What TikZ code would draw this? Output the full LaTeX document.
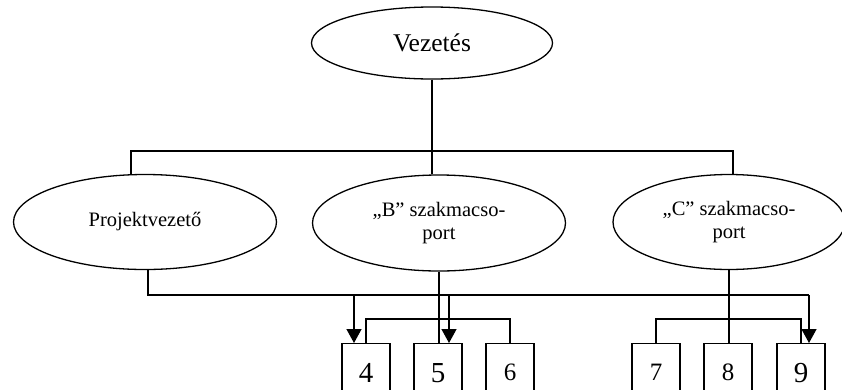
\documentclass[tikz,border=0pt]{standalone}
\usepackage{fontspec}
\setmainfont{Liberation Serif}
\usetikzlibrary{shapes.geometric,arrows.meta,calc}
\begin{document}
\begin{tikzpicture}[x=1pt, y=-1pt, line width=1.3pt,
  oval/.style={draw, ellipse, inner sep=0pt},
  unit/.style={draw, rectangle, minimum width=48pt, minimum height=58pt, inner sep=0pt, anchor=north},
  big/.style={font=\fontsize{29}{32}\selectfont},
  small/.style={font=\fontsize{25}{28}\selectfont},
  label/.style={font=\fontsize{20.5}{23}\selectfont},
  link/.style={-{Triangle[width=15pt,length=14pt]}}]
\useasboundingbox (0,0) rectangle (842,389);
\clip (0,0) rectangle (842,389);

% management level
\node[oval, minimum width=241pt, minimum height=72pt, font=\fontsize{25.5}{28}\selectfont] (vez) at (432,43) {Vezetés};

% second level
\node[oval, label, minimum width=263pt, minimum height=95pt] (proj) at (145,222) {Projektvezető};
\node[oval, label, minimum width=253pt, minimum height=96pt, align=center] (bgrp) at (439,223) {„B” szakmacso-\\port};
\node[oval, label, minimum width=232pt, minimum height=95pt, align=center] (cgrp) at (729,222) {„C” szakmacso-\\port};

% working units
\node[unit, big]   (u4) at (366,343) {4};
\node[unit, big]   (u5) at (438,343) {5};
\node[unit, small] (u6) at (510,343) {6};
\node[unit, small] (u7) at (656,343) {7};
\node[unit, small] (u8) at (728,343) {8};
\node[unit, big]   (u9) at (801,343) {9};

% bus from management to second level
\coordinate (busL) at (131,151);
\coordinate (busR) at (733,151);
\draw (vez.south) -- (vez.south |- busL);
\draw (proj.north -| busL) -- (busL) -- (busR) -- (busR |- cgrp.north);
\draw (vez.south |- busL) -- (vez.south |- bgrp.north);

% project leader feeds units 4, 5 and 9
\coordinate (feed) at (148,295);
\coordinate (a4) at ($(u4.north)+(-12,0)$);
\coordinate (a5) at ($(u5.north)+(11,0)$);
\coordinate (a9) at ($(u9.north)+(8,0)$);
\draw ($(proj.south)+(3,0)$) -- (feed) -- (feed -| a9);
\draw[link] (feed -| a4) -- (a4);
\draw[link] (feed -| a5) -- (a5);
\draw[link] (feed -| a9) -- (a9);

% group B
\draw (bgrp.south) -- (bgrp.south |- u5.north);
\draw (u4.north) -- ++(0,-24) -| (u6.north);

% group C
\draw (cgrp.south) -- (cgrp.south |- u8.north);
\draw (u7.north) -- ++(0,-24) -| (u9.north);
\end{tikzpicture}
\end{document}
